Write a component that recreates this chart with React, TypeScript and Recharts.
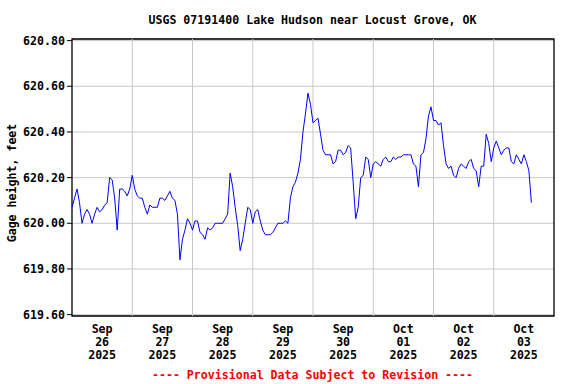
import { LineChart, Line, XAxis, YAxis, CartesianGrid, ReferenceLine, ReferenceArea } from 'recharts';

// hourly gage height, feet, starting Sep 26 2025 00:00
const gageFeet = [
  620.07, 620.11, 620.15, 620.09, 620.00, 620.04, 620.06, 620.04, 620.00, 620.04,
  620.07, 620.05, 620.06, 620.08, 620.09, 620.20, 620.19, 620.11, 619.97, 620.15,
  620.15, 620.14, 620.12, 620.15, 620.21, 620.15, 620.12, 620.11, 620.11, 620.07,
  620.04, 620.08, 620.07, 620.07, 620.07, 620.11, 620.11, 620.10, 620.12, 620.14,
  620.11, 620.10, 620.04, 619.84, 619.93, 619.97, 620.02, 620.00, 619.97, 620.01,
  620.01, 619.96, 619.95, 619.93, 619.98, 619.97, 619.98, 620.00, 620.00, 620.00,
  620.00, 620.02, 620.04, 620.22, 620.16, 620.07, 619.99, 619.88, 619.93, 620.00,
  620.07, 620.06, 620.00, 620.05, 620.06, 620.01, 619.97, 619.95, 619.95, 619.95,
  619.96, 619.98, 620.00, 620.00, 620.00, 620.01, 620.00, 620.11, 620.16, 620.18,
  620.22, 620.28, 620.40, 620.48, 620.57, 620.52, 620.44, 620.45, 620.46, 620.39,
  620.32, 620.30, 620.30, 620.30, 620.26, 620.27, 620.32, 620.32, 620.30, 620.31,
  620.34, 620.33, 620.18, 620.02, 620.07, 620.20, 620.21, 620.29, 620.28, 620.20,
  620.26, 620.27, 620.26, 620.25, 620.28, 620.29, 620.27, 620.27, 620.29, 620.28,
  620.29, 620.29, 620.30, 620.30, 620.30, 620.30, 620.26, 620.25, 620.16, 620.30,
  620.31, 620.37, 620.47, 620.51, 620.45, 620.45, 620.43, 620.44, 620.34, 620.26,
  620.24, 620.25, 620.21, 620.20, 620.24, 620.26, 620.25, 620.24, 620.27, 620.28,
  620.24, 620.23, 620.16, 620.25, 620.25, 620.39, 620.35, 620.27, 620.33, 620.36,
  620.33, 620.30, 620.32, 620.33, 620.33, 620.27, 620.26, 620.30, 620.28, 620.26,
  620.30, 620.27, 620.23, 620.09,
];

const dayMonths = ['Sep', 'Sep', 'Sep', 'Sep', 'Sep', 'Oct', 'Oct', 'Oct'];
const dayNumbers = ['26', '27', '28', '29', '30', '01', '02', '03'];
const dayYears = ['2025', '2025', '2025', '2025', '2025', '2025', '2025', '2025'];
const noonHours = [12, 36, 60, 84, 108, 132, 156, 180];
const midnightHours = [24, 48, 72, 96, 120, 144, 168];
const yTicks = [619.6, 619.8, 620.0, 620.2, 620.4, 620.6, 620.8];

const data = gageFeet.map((v, i) => ({ t: i, gage: v }));

const FONT = '"DejaVu Sans Mono", monospace';
const FS = 11.6;
const Y_MIN = 619.594;
const Y_MAX = 620.807;

const DayTick = (props: any) => {
  const { x, y, payload } = props;
  const i = noonHours.indexOf(payload.value);
  const common = { x, textAnchor: 'middle' as const, fontFamily: FONT, fontSize: FS, fontWeight: 'bold', fill: '#000' };
  return (
    <g>
      <text {...common} y={y + 17}>{dayMonths[i]}</text>
      <text {...common} y={y + 30}>{dayNumbers[i]}</text>
      <text {...common} y={y + 43}>{dayYears[i]}</text>
    </g>
  );
};

export default function App() {
  return (
    <div style={{ position: 'absolute', left: 0, top: 0, width: 576, height: 384, background: '#fff' }}>
      <LineChart width={576} height={384} data={data} margin={{ top: 39, right: 22, bottom: 0, left: 0 }}>
        <CartesianGrid vertical={false} stroke="#c8c8c8" />
        {midnightHours.map((h) => (
          <ReferenceLine key={h} x={h} stroke="#c8c8c8" />
        ))}
        <XAxis
          dataKey="t"
          type="number"
          domain={[0, 192]}
          ticks={noonHours}
          interval={0}
          axisLine={false}
          tickLine={false}
          tickSize={0}
          tickMargin={0}
          height={68}
          tick={<DayTick />}
        />
        <YAxis
          type="number"
          domain={[Y_MIN, Y_MAX]}
          ticks={yTicks}
          interval={0}
          width={72}
          axisLine={false}
          tickSize={5}
          tickMargin={2}
          tickLine={{ stroke: '#000' }}
          tickFormatter={(v: number) => v.toFixed(2)}
          tick={{ fontFamily: FONT, fontSize: FS, fontWeight: 'bold', fill: '#000' }}
        />
        <Line
          type="linear"
          dataKey="gage"
          stroke="#0000ff"
          strokeWidth={1}
          dot={false}
          isAnimationActive={false}
        />
        <ReferenceArea x1={0} x2={192} y1={Y_MIN} y2={Y_MAX} fill="none" stroke="#000" strokeWidth={1.3} />
      </LineChart>
      <svg width={576} height={384} style={{ position: 'absolute', left: 0, top: 0, pointerEvents: 'none' }}>
        <text x={312.5} y={24} textAnchor="middle" fontFamily={FONT} fontSize={FS} fontWeight="bold" fill="#000">
          USGS 07191400 Lake Hudson near Locust Grove, OK
        </text>
        <text x={16} y={183} transform="rotate(-90 16 183)" textAnchor="middle" fontFamily={FONT} fontSize={FS} fontWeight="bold" fill="#000">
          Gage height, feet
        </text>
        <text x={312.5} y={379} textAnchor="middle" fontFamily={FONT} fontSize={FS} fontWeight="bold" fill="#ff0000">
          ---- Provisional Data Subject to Revision ----
        </text>
      </svg>
    </div>
  );
}
